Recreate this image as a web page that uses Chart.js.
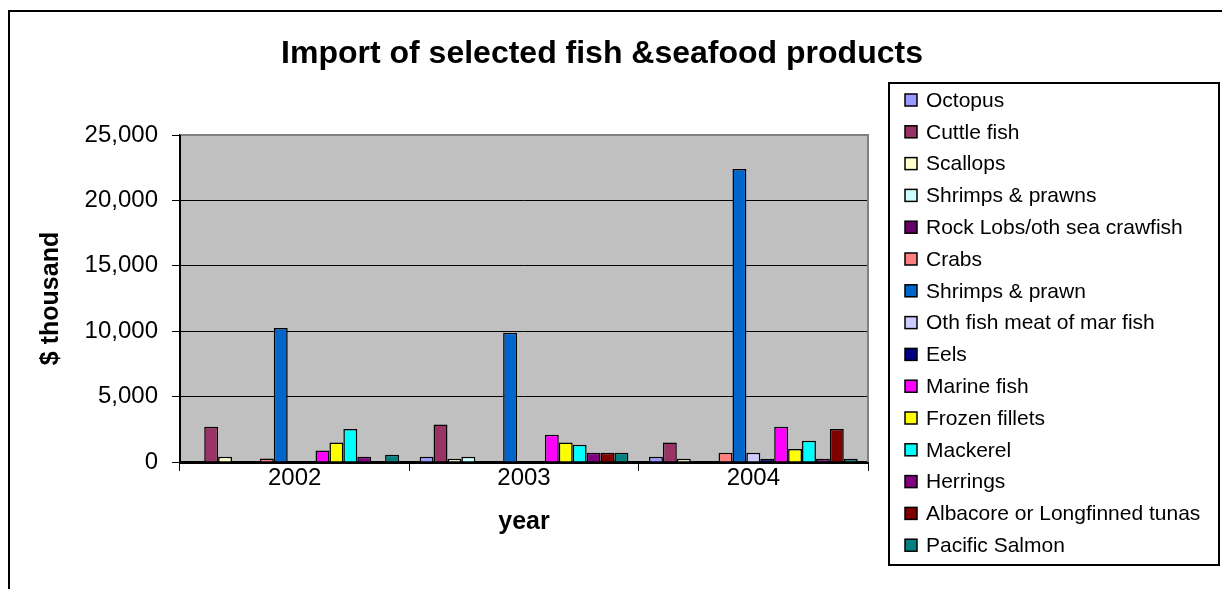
<!DOCTYPE html>
<html><head><meta charset="utf-8">
<script src="https://cdn.jsdelivr.net/npm/chart.js@4.4.0/dist/chart.umd.min.js"></script>
<style>html,body{margin:0;padding:0;background:#fff;}#wrap{width:1222px;height:589px;position:relative;}</style>
</head><body><div id="wrap"><canvas id="c" width="1222" height="589"></canvas></div>
<script>
const chartTitle = 'Import of selected fish &seafood products';
const categories = ['2002', '2003', '2004'];
const seriesNames = ['Octopus', 'Cuttle fish', 'Scallops', 'Shrimps & prawns', 'Rock Lobs/oth sea crawfish', 'Crabs', 'Shrimps & prawn', 'Oth fish meat of mar fish', 'Eels', 'Marine fish', 'Frozen fillets', 'Mackerel', 'Herrings', 'Albacore or Longfinned tunas', 'Pacific Salmon'];
const octopus      = [0, 400, 400];
const cuttleFish   = [2690, 2860, 1490];
const scallops     = [400, 245, 245];
const shrimpsPrawns = [0, 400, 30];
const rockLobs     = [50, 0, 30];
const crabs        = [270, 50, 700];
const shrimpsPrawn = [10250, 9880, 22400];
const othFishMeat  = [0, 0, 700];
const eels         = [50, 50, 245];
const marineFish   = [880, 2075, 2690];
const frozenFillets = [1490, 1490, 1000];
const mackerel     = [2530, 1310, 1620];
const herrings     = [400, 700, 245];
const albacore     = [0, 700, 2530];
const pacificSalmon = [550, 700, 245];
const yTicks = [0, 5000, 10000, 15000, 20000, 25000];

const seriesValues = [octopus, cuttleFish, scallops, shrimpsPrawns, rockLobs, crabs, shrimpsPrawn, othFishMeat, eels, marineFish, frozenFillets, mackerel, herrings, albacore, pacificSalmon];
const colors = ['#9999FF', '#993366', '#FFFFCC', '#CCFFFF', '#660066', '#FF8080', '#0066CC', '#CCCCFF', '#000080', '#FF00FF', '#FFFF00', '#00FFFF', '#800080', '#800000', '#008080'];
const FONT = "'Liberation Sans', Arial, sans-serif";

const datasets = seriesNames.map((n, i) => ({
  label: n, data: seriesValues[i], backgroundColor: colors[i],
  borderColor: '#000', borderWidth: 1.5, barPercentage: 1, categoryPercentage: 0.91
}));

const deco = {
  id: 'deco',
  beforeDraw(chart) {
    const {ctx, chartArea: a} = chart;
    ctx.save();
    ctx.fillStyle = '#fff';
    ctx.fillRect(0, 0, chart.width, chart.height);
    ctx.fillStyle = '#C0C0C0';
    ctx.fillRect(a.left, a.top, a.right - a.left, a.bottom - a.top);
    ctx.restore();
  },
  afterDraw(chart) {
    const {ctx, chartArea: a} = chart;
    ctx.save();
    ctx.strokeStyle = '#808080';
    ctx.lineWidth = 2;
    ctx.beginPath();
    ctx.moveTo(a.left, a.top); ctx.lineTo(a.right, a.top); ctx.lineTo(a.right, a.bottom);
    ctx.stroke();
    ctx.strokeStyle = '#000';
    ctx.beginPath();
    ctx.moveTo(a.left, a.top); ctx.lineTo(a.left, a.bottom + 1); ctx.lineTo(a.right, a.bottom + 1);
    ctx.stroke();
    ctx.lineWidth = 2;
    ctx.strokeRect(9, 11, 1400, 800);
    ctx.fillStyle = '#000';
    ctx.font = 'bold 32px ' + FONT;
    ctx.textAlign = 'center';
    ctx.textBaseline = 'middle';
    ctx.fillText(chartTitle, 602, 54);
    ctx.lineWidth = 2;
    ctx.strokeRect(889, 83, 330, 482);
    ctx.font = '21px ' + FONT;
    ctx.textAlign = 'left';
    chart.data.datasets.forEach((ds, i) => {
      const y = 100 + 31.8 * i;
      ctx.fillStyle = ds.backgroundColor;
      ctx.fillRect(905, y - 6, 12, 12);
      ctx.lineWidth = 1.5;
      ctx.strokeStyle = '#000';
      ctx.strokeRect(905, y - 6, 12, 12);
      ctx.fillStyle = '#000';
      ctx.fillText(ds.label, 926, y + 1);
    });
    ctx.restore();
  }
};

new Chart(document.getElementById('c'), {
  type: 'bar',
  data: { labels: categories, datasets },
  options: {
    responsive: false, animation: false, devicePixelRatio: 1,
    layout: { padding: { left: 0, top: 135, right: 354, bottom: 0 } },
    plugins: { legend: { display: false }, title: { display: false }, tooltip: { enabled: false } },
    scales: {
      y: {
        min: 0, max: 25000,
        afterBuildTicks: s => { s.ticks = yTicks.map(v => ({ value: v })); },
        afterFit: s => { s.width = 180; },
        ticks: { color: '#000', font: { family: FONT, size: 24 }, padding: 14,
                 callback: v => v.toLocaleString('en-US') },
        grid: { color: '#000', lineWidth: 1, tickLength: 8, tickColor: '#000' },
        border: { display: true, color: '#000', width: 2 },
        title: { display: true, text: '$ thousand', color: '#000',
                 font: { family: FONT, size: 25, weight: 'bold' }, padding: { top: 36, bottom: 0 } }
      },
      x: {
        afterFit: s => { s.height = 127; },
        ticks: { color: '#000', font: { family: FONT, size: 24 }, padding: -7 },
        grid: { display: true, drawOnChartArea: false, drawTicks: true, tickLength: 9, color: '#000', offset: true },
        border: { display: true, color: '#000', width: 2 },
        title: { display: true, text: 'year', color: '#000',
                 font: { family: FONT, size: 25, weight: 'bold' }, padding: { top: 0, bottom: 52 } }
      }
    }
  },
  plugins: [deco]
});
</script></body></html>
